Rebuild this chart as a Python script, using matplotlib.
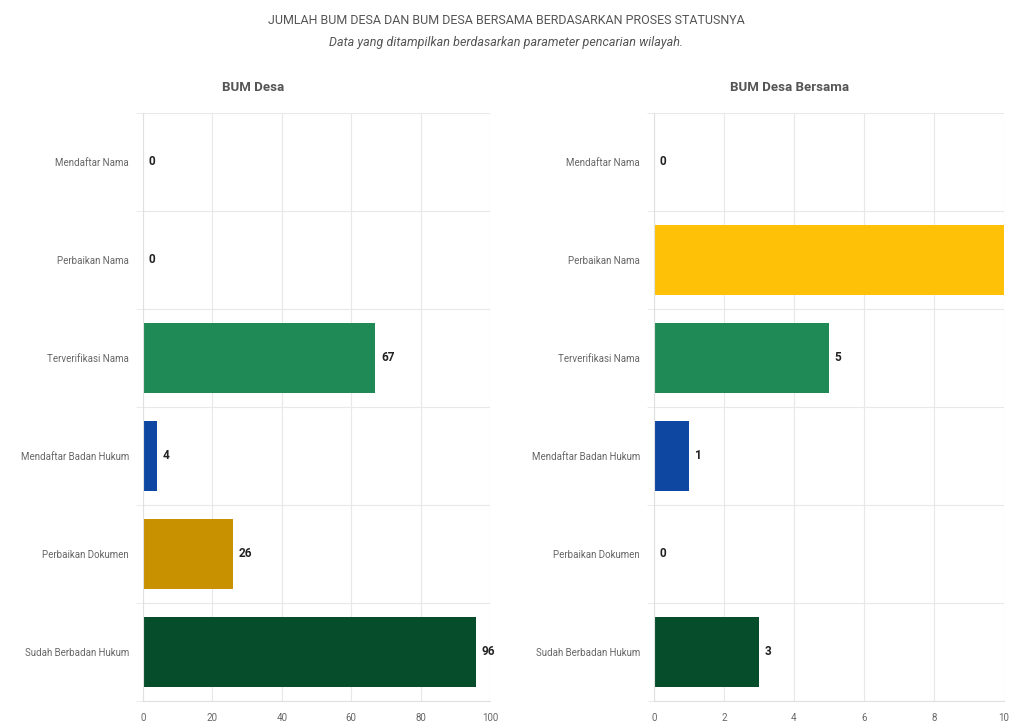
import matplotlib.pyplot as plt
from matplotlib.ticker import FixedLocator

plt.rcParams['font.family'] = ['Roboto', 'DejaVu Sans']

# kategori status dan nilainya
categories = ['Mendaftar Nama', 'Perbaikan Nama', 'Terverifikasi Nama',
              'Mendaftar Badan Hukum', 'Perbaikan Dokumen', 'Sudah Berbadan Hukum']
bum_desa = [0, 0, 67, 4, 26, 96]
bum_desa_bersama = [0, 10, 5, 1, 0, 3]
bar_colors = ['#9e9e9e', '#ffc107', '#1f8a55', '#0d47a1', '#c79100', '#054d2b']

left_ticks = [0, 20, 40, 60, 80, 100]
right_ticks = [0, 2, 4, 6, 8, 10]

fig = plt.figure(figsize=(10.12, 7.27), dpi=100)

fig.text(0.5, 0.972, 'JUMLAH BUM DESA DAN BUM DESA BERSAMA BERDASARKAN PROSES STATUSNYA',
         ha='center', va='center', fontsize=9, color='#555555')
fig.text(0.5, 0.942, 'Data yang ditampilkan berdasarkan parameter pencarian wilayah.',
         ha='center', va='center', fontsize=9, color='#555555', style='italic')


def draw_panel(ax, values, ticks, title, title_x):
    y = list(range(len(categories)))
    ax.barh(y, values, height=0.72, color=bar_colors, zorder=2)
    ax.set_ylim(len(categories) - 0.5, -0.5)
    ax.set_xlim(ticks[0], ticks[-1])
    ax.set_xticks(ticks)
    ax.set_yticks(y)
    ax.set_yticklabels(categories)
    ax.yaxis.set_minor_locator(FixedLocator([i - 0.5 for i in range(len(categories) + 1)]))
    ax.grid(axis='x', which='major', color='#e8e8e8', linewidth=0.8, zorder=0)
    ax.grid(axis='y', which='minor', color='#e8e8e8', linewidth=0.8, zorder=0)
    ax.tick_params(axis='both', which='major', length=0, labelsize=7, labelcolor='#666666')
    ax.tick_params(axis='y', which='major', pad=10)
    ax.tick_params(axis='x', which='major', pad=9)
    ax.tick_params(axis='y', which='minor', length=5, color='#e8e8e8')
    for s in ['top', 'right']:
        ax.spines[s].set_visible(False)
    ax.spines['left'].set_color('#e0e0e0')
    ax.spines['bottom'].set_color('#e0e0e0')
    span = ticks[-1] - ticks[0]
    for i, v in enumerate(values):
        ax.text(v + span * 0.016, i, str(v), va='center', ha='left',
                fontsize=8.5, fontweight='bold', color='#222222', clip_on=False)
    fig.text(title_x, 0.879, title, ha='center', va='center',
             fontsize=9.5, fontweight='bold', color='#555555')


ax1 = fig.add_axes([0.1413, 0.0358, 0.3429, 0.809])
draw_panel(ax1, bum_desa, left_ticks, 'BUM Desa', 0.25)

ax2 = fig.add_axes([0.6462, 0.0358, 0.3458, 0.809])
draw_panel(ax2, bum_desa_bersama, right_ticks, 'BUM Desa Bersama', 0.78)

fig.savefig('out.png', dpi=100)
